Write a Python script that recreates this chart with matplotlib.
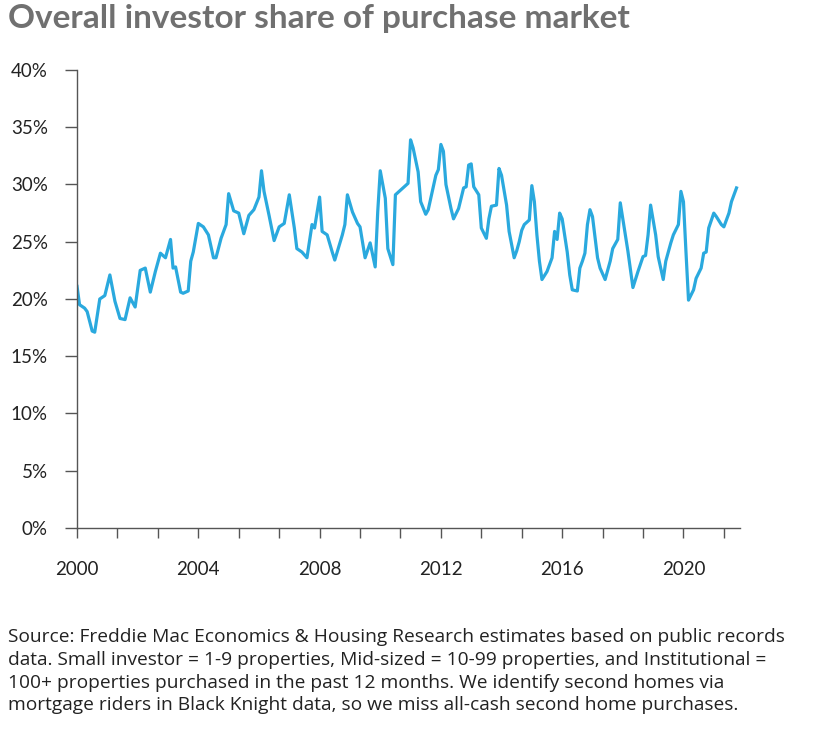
import matplotlib
matplotlib.use("Agg")
import matplotlib.pyplot as plt
import numpy as np

# month index (0 = Jan 2000) and investor share (%)
months = [0, 1, 3, 4, 6, 7, 9, 11, 13, 15, 17, 19, 21, 23, 25, 27, 29, 31, 33, 35,
          37, 38, 39, 41, 42, 44, 45, 46, 48, 50, 52, 54, 55, 57, 59, 60, 62, 64, 66, 68,
          70, 72, 73, 74, 76, 78, 80, 82, 84, 86, 87, 89, 91, 93, 94, 96, 97, 99, 101, 102,
          105, 106, 107, 109, 111, 112, 114, 116, 118, 119, 120, 122, 123, 125, 126, 128, 129, 131,
          132, 133, 135, 136, 138, 139, 142, 143, 144, 145, 146, 148, 149, 151, 153, 154, 155, 156,
          157, 159, 160, 162, 163, 164, 166, 167, 168, 170, 171, 173, 174, 175, 176, 177, 179, 180,
          181, 182, 183, 184, 186, 188, 189, 190, 191, 192, 194, 195, 196, 198, 199, 200, 201, 202,
          203, 204, 206, 207, 209, 211, 212, 214, 215, 216, 218, 220, 222, 224, 225, 226, 227, 229,
          230, 232, 233, 235, 236, 238, 239, 240, 241, 242, 244, 245, 247, 248, 249, 250, 252, 253,
          255, 256, 258, 259, 261]
share = [21.1, 19.5, 19.2, 18.9, 17.2, 17.1, 20.0, 20.3, 22.1, 19.8, 18.3, 18.2, 20.1, 19.3, 22.5, 22.7, 20.6, 22.4, 24.0, 23.6,
         25.2, 22.7, 22.8, 20.6, 20.5, 20.7, 23.3, 24.1, 26.6, 26.3, 25.6, 23.6, 23.6, 25.3, 26.5, 29.2, 27.7, 27.5, 25.7, 27.3,
         27.8, 28.9, 31.2, 29.4, 27.3, 25.1, 26.3, 26.6, 29.1, 26.2, 24.4, 24.1, 23.6, 26.5, 26.2, 28.9, 25.9, 25.6, 24.1, 23.4,
         25.6, 26.5, 29.1, 27.6, 26.6, 26.3, 23.6, 24.9, 22.8, 27.6, 31.2, 28.8, 24.4, 23.0, 29.1, 29.5, 29.7, 30.1,
         33.9, 33.2, 31.1, 28.5, 27.4, 27.8, 30.8, 31.3, 33.5, 32.9, 30.0, 27.9, 27.0, 27.9, 29.7, 29.8, 31.7, 31.8,
         29.8, 29.1, 26.2, 25.3, 27.0, 28.1, 28.2, 31.4, 30.8, 28.2, 25.9, 23.6, 24.2, 25.0, 26.0, 26.5, 26.9, 29.9,
         28.5, 25.6, 23.3, 21.7, 22.4, 23.6, 25.9, 25.2, 27.5, 27.0, 24.1, 22.1, 20.8, 20.7, 22.7, 23.3, 24.0, 26.5,
         27.8, 27.2, 23.6, 22.7, 21.7, 23.3, 24.4, 25.2, 28.4, 27.0, 24.2, 21.0, 22.4, 23.7, 23.8, 25.6, 28.2, 25.6,
         23.7, 21.7, 23.3, 24.9, 25.6, 26.5, 29.4, 28.5, 24.1, 19.9, 20.8, 21.8, 22.7, 24.0, 24.1, 26.2, 27.5, 27.2,
         26.5, 26.3, 27.5, 28.5, 29.7]

year_labels = ["2000", "2004", "2008", "2012", "2016", "2020"]
pct_ticks = [0, 5, 10, 15, 20, 25, 30, 35, 40]

title = "Overall investor share of purchase market"
source = ("Source: Freddie Mac Economics & Housing Research estimates based on public records\n"
          "data. Small investor = 1-9 properties, Mid-sized = 10-99 properties, and Institutional =\n"
          "100+ properties purchased in the past 12 months. We identify second homes via\n"
          "mortgage riders in Black Knight data, so we miss all-cash second home purchases.")

plt.rcParams['font.family'] = ['Lato', 'DejaVu Sans']

years = 2000 + np.array(months) / 12.0

fig = plt.figure(figsize=(8.23, 7.33), dpi=100)
ax = fig.add_axes([0.0936, 0.2797, 0.805, 0.6248])

ax.plot(years, share, color="#2aa9de", lw=2.3, solid_joinstyle="round")

ax.set_ylim(0, 40)
ax.set_xlim(2000, 2021.85)
ax.set_yticks(pct_ticks)
ax.set_yticklabels([f"{t}%" for t in pct_ticks], fontsize=13.5, color="#222222")

# ticks every 16 months, labels every 4 years
xt = 2000 + np.arange(0, 17) * 16 / 12.0
ax.set_xticks(xt)
ax.set_xticklabels([])
for lab in year_labels:
    ax.text(int(lab), -2.9, lab, ha="center", va="top", fontsize=13.5, color="#222222")

for s in ["top", "right"]:
    ax.spines[s].set_visible(False)
for s in ["left", "bottom"]:
    ax.spines[s].set_color("#555555")
    ax.spines[s].set_linewidth(1.0)
ax.tick_params(axis="y", length=9, width=1.0, color="#555555", pad=12)
ax.tick_params(axis="x", length=7, width=1.0, color="#555555")

fig.text(0.01, 0.994, title, ha="left", va="top", fontsize=24, fontweight="bold", color="#707070")
fig.text(0.01, 0.143, source, ha="left", va="top", fontsize=13.8, color="#222222",
         family=["Open Sans", "DejaVu Sans"], linespacing=1.34)

fig.savefig("out.png", dpi=100)
